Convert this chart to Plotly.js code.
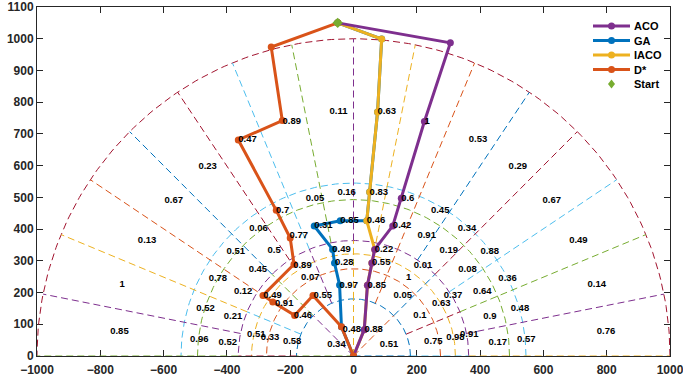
<!DOCTYPE html>
<html><head><meta charset="utf-8">
<script src="https://cdn.plot.ly/plotly-3.0.1.min.js"></script>
<style>html,body{margin:0;padding:0;background:#fff}#chart{width:683px;height:385px}</style>
</head><body><div id="chart"></div>
<script>
// ---- data ----
const ringEdges = [0, 180, 275, 322, 364, 493, 545, 1000];
const ringSectors = [4, 8, 8, 8, 16, 16, 16];
const ring0Probs = [0.51, 0.88, 0.48, 0.34];
const ring1Probs = [0.75, 0.1, 0.05, 0.85, 0.97, 0.55, 0.46, 0.58];
const ring2Probs = [0.98, 0.63, 1, 0.55, 0.28, 0.07, 0.91, 0.33];
const ring3Probs = [0.91, 0.37, 0.01, 0.22, 0.49, 0.89, 0.49, 0.51];
const ring4Probs = [0.17, 0.9, 0.64, 0.08, 0.19, 0.91, 0.42, 0.46, 0.85, 0.31, 0.77, 0.5, 0.45, 0.12, 0.21, 0.52];
const ring5Probs = [0.57, 0.48, 0.36, 0.88, 0.34, 0.45, 0.6, 0.83, 0.16, 0.05, 0.7, 0.06, 0.51, 0.78, 0.52, 0.96];
const ring6Probs = [0.76, 0.14, 0.49, 0.67, 0.29, 0.53, 1, 0.63, 0.11, 0.89, 0.47, 0.23, 0.67, 0.13, 1, 0.85];
const ringProbs = [ring0Probs, ring1Probs, ring2Probs, ring3Probs, ring4Probs, ring5Probs, ring6Probs];

const acoX = [0, 34, 44, 58, 67, 124, 151, 224, 306, -50];
const acoY = [0, 83, 223, 293, 336, 410, 497, 739, 987, 1050];
const gaX = [0, -38, -44, -60, -66, -124, -42, 42, 51, 76, 89, -50];
const gaY = [0, 92, 224, 293, 336, 410, 426, 426, 517, 769, 999, 1050];
const iacoX = [0, 34, 44, 58, 67, 42, 51, 76, 89, -50];
const iacoY = [0, 83, 223, 293, 336, 426, 517, 769, 999, 1050];
const dstarX = [0, -38, -128, -186, -255, -286, -188, -200, -244, -364, -225, -260, -50];
const dstarY = [0, 92, 191, 128, 170, 191, 289, 372, 459, 681, 742, 974, 1050];
const startX = [-50];
const startY = [1050];

const seriesNames = ['ACO', 'GA', 'IACO', 'D*', 'Start'];
const xTicks = [-1000, -800, -600, -400, -200, 0, 200, 400, 600, 800, 1000];
const yTicks = [0, 100, 200, 300, 400, 500, 600, 700, 800, 900, 1000, 1100];

// ---- styles ----
const C = ['#0072BD', '#D95319', '#EDB120', '#7E2F8E', '#77AC30', '#4DBEEE', '#A2142F'];
const DASH = '7px,4px';
const deg = Math.PI / 180;
const FONT = 'Liberation Sans, Arial, sans-serif';

const traces = [];
// arcs
for (let i = 1; i < ringEdges.length; i++) {
  const r = ringEdges[i];
  const xs = [], ys = [];
  for (let a = 0; a <= 180; a += 1) { xs.push(r * Math.cos(a * deg)); ys.push(r * Math.sin(a * deg)); }
  traces.push({x: xs, y: ys, mode: 'lines', line: {color: C[(i - 1) % 7], width: 1, dash: DASH}, hoverinfo: 'skip', showlegend: false});
}
// radial lines: outer rings (364-1000), 11.25 deg
for (let j = 0; j <= 16; j++) {
  const a = j * 11.25 * deg;
  traces.push({x: [364 * Math.cos(a), 1000 * Math.cos(a)], y: [364 * Math.sin(a), 1000 * Math.sin(a)], mode: 'lines',
    line: {color: C[(j + 2) % 7], width: 1, dash: DASH}, hoverinfo: 'skip', showlegend: false});
}
// middle rings (180-364), 22.5 deg
for (let k = 0; k <= 8; k++) {
  const a = k * 22.5 * deg;
  traces.push({x: [180 * Math.cos(a), 364 * Math.cos(a)], y: [180 * Math.sin(a), 364 * Math.sin(a)], mode: 'lines',
    line: {color: C[(k + 5) % 7], width: 1, dash: DASH}, hoverinfo: 'skip', showlegend: false});
}
// inner ring (0-180), 45 deg
for (let k = 0; k <= 4; k++) {
  const a = k * 45 * deg;
  traces.push({x: [0, 180 * Math.cos(a)], y: [0, 180 * Math.sin(a)], mode: 'lines',
    line: {color: C[k % 7], width: 1, dash: DASH}, hoverinfo: 'skip', showlegend: false});
}

// paths
function pathTrace(x, y, color, name) {
  return {x: x, y: y, mode: 'lines+markers', name: name, line: {color: color, width: 3},
    marker: {color: color, size: 7}, showlegend: false};
}
traces.push(pathTrace(gaX, gaY, C[0], seriesNames[1]));
traces.push(pathTrace(iacoX, iacoY, C[2], seriesNames[2]));
traces.push(pathTrace(acoX, acoY, C[3], seriesNames[0]));
traces.push(pathTrace(dstarX, dstarY, C[1], seriesNames[3]));
traces.push({x: startX, y: startY, mode: 'markers', name: seriesNames[4], marker: {symbol: 'diamond', color: C[4], size: 8}, showlegend: false});

// cell labels at sector centres
const lx = [], ly = [], lt = [];
for (let i = 0; i < ringProbs.length; i++) {
  const n = ringSectors[i];
  const r = (ringEdges[i] + ringEdges[i + 1]) / 2;
  for (let s = 0; s < n; s++) {
    const a = (s + 0.5) * 180 / n * deg;
    lx.push(r * Math.cos(a)); ly.push(r * Math.sin(a)); lt.push(String(ringProbs[i][s]));
  }
}
traces.push({x: lx, y: ly, text: lt, mode: 'text', textposition: 'middle right',
  textfont: {family: FONT, size: 9.5, color: '#000', weight: 'bold'}, hoverinfo: 'skip', showlegend: false});

// custom legend (MATLAB style, tight rows)
const L = 37, T = 7, W = 633, H = 349;
const px2x = p => (p - L) / W, py2y = p => (T + H - p) / H;
const legRows = [26, 40.5, 55, 69.5, 84];
const legColors = [C[3], C[0], C[2], C[1], C[4]];
const shapes = [], annotations = [];
for (let i = 0; i < 5; i++) {
  const yy = py2y(legRows[i]);
  if (i < 4) {
    shapes.push({type: 'line', xref: 'paper', yref: 'paper', x0: px2x(593), x1: px2x(630), y0: yy, y1: yy, line: {color: legColors[i], width: 3}});
    shapes.push({type: 'circle', xref: 'paper', yref: 'paper', xsizemode: 'pixel', ysizemode: 'pixel', xanchor: px2x(611.5), yanchor: yy,
      x0: -3.5, x1: 3.5, y0: -3.5, y1: 3.5, fillcolor: legColors[i], line: {width: 0}});
  } else {
    shapes.push({type: 'path', xref: 'paper', yref: 'paper', xsizemode: 'pixel', ysizemode: 'pixel', xanchor: px2x(611.5), yanchor: yy,
      path: 'M0,4.5L3.5,0L0,-4.5L-3.5,0Z', fillcolor: legColors[i], line: {width: 0}});
  }
  annotations.push({text: seriesNames[i], xref: 'paper', yref: 'paper', x: px2x(632), y: yy, xanchor: 'left', yanchor: 'middle', showarrow: false,
    font: {family: FONT, size: 11, color: '#000', weight: 'bold'}});
}

const axisFont = {family: FONT, size: 12, color: '#262626', weight: 'bold'};
const layout = {
  width: 683, height: 385,
  margin: {l: L, r: 683 - L - W, t: T, b: 385 - T - H},
  paper_bgcolor: '#fff', plot_bgcolor: '#fff',
  showlegend: false,
  xaxis: {range: [-1000, 1000], tickvals: xTicks, ticks: 'inside', ticklen: 6, tickcolor: '#262626', mirror: 'ticks',
    showline: true, linecolor: '#262626', linewidth: 1, showgrid: false, zeroline: false, tickfont: axisFont,
    layer: 'below traces', ticklabelstandoff: 3, ticklabeloverflow: 'allow'},
  yaxis: {range: [0, 1100], tickvals: yTicks, ticks: 'inside', ticklen: 6, tickcolor: '#262626', mirror: 'ticks',
    showline: true, linecolor: '#262626', linewidth: 1, showgrid: false, zeroline: false, tickfont: axisFont, layer: 'below traces'},
  shapes: shapes, annotations: annotations
};
Plotly.newPlot('chart', traces, layout, {staticPlot: true, displayModeBar: false});
</script></body></html>
